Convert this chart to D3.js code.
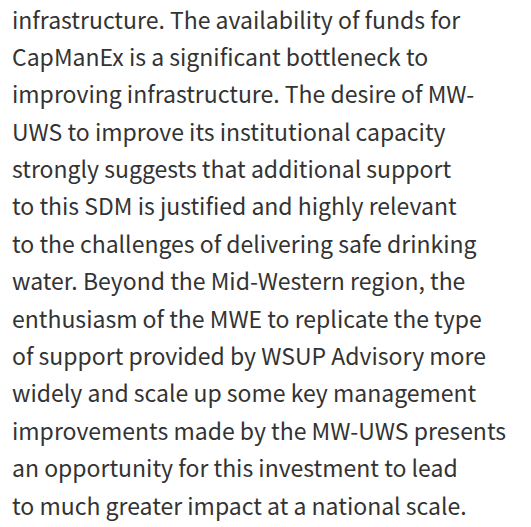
<!DOCTYPE html>
<html>
<head>
<meta charset="utf-8">
<script src="https://cdn.jsdelivr.net/npm/d3@7"></script>
<style>
  html, body { margin: 0; padding: 0; background: #fff; }
</style>
</head>
<body>
<div id="page"></div>
<script>
// paragraph lines, as they wrap in the picture
var lines = [
    "infrastructure. The availability of funds for",
    "CapManEx is a significant bottleneck to",
    "improving infrastructure. The desire of MW-",
    "UWS to improve its institutional capacity",
    "strongly suggests that additional support",
    "to this SDM is justified and highly relevant",
    "to the challenges of delivering safe drinking",
    "water. Beyond the Mid-Western region, the",
    "enthusiasm of the MWE to replicate the type",
    "of support provided by WSUP Advisory more",
    "widely and scale up some key management",
    "improvements made by the MW-UWS presents",
    "an opportunity for this investment to lead",
    "to much greater impact at a national scale."
]
var lineIndex = d3.range(lines.length)

const width = 531
const height = 527

const svg = d3.select("#page")
    .append("svg")
        .attr("width", width)
        .attr("height", height)

const y = d3.scaleLinear().domain([0, lines.length - 1]).range([28.5, 514.5])

svg.append("g")
    .selectAll("text")
    .data(lineIndex)
    .enter().append("text")
        .attr("x", 12)
        .attr("y", d => y(d))
        .attr("font-family", "'Noto Sans CJK SC', 'Noto Sans', sans-serif")
        .attr("font-size", 23)
        .attr("fill", "#333")
        .text(d => lines[d])
</script>
</body>
</html>
